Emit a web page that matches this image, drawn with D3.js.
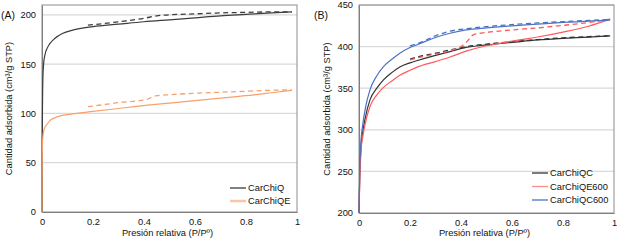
<!DOCTYPE html>
<html><head><meta charset="utf-8">
<script src="https://cdn.jsdelivr.net/npm/d3@7"></script>
<style>
body{margin:0;background:#fff;}
svg{display:block;font-family:"Liberation Sans",Arial,sans-serif;}
</style></head>
<body><svg id="c" width="617" height="240"></svg>
<script>
// ---------- DATA ----------
const xTicks = [0, 0.2, 0.4, 0.6, 0.8, 1];
const xTickLabels = ["0", "0.2", "0.4", "0.6", "0.8", "1"];
const yTicksA = [0, 50, 100, 150, 200];
const yTicksB = [200, 250, 300, 350, 400, 450];

// Panel A: [P/P0, volume]
const carChiQ_ads = [[0,0],[0.0005,50],[0.002,110],[0.004,140],[0.007,152],[0.012,160],[0.02,166],[0.03,170.5],[0.05,176],[0.08,181],[0.12,184.5],[0.2,188],[0.3,190.5],[0.4,193],[0.5,195],[0.6,197],[0.7,199],[0.8,200.5],[0.9,202],[0.98,203]];
const carChiQ_des = [[0.98,203],[0.9,203],[0.8,202.5],[0.7,202],[0.6,201],[0.5,200],[0.45,199],[0.4,196.5],[0.3,193],[0.2,190],[0.18,189.5]];
const carChiQE_ads = [[0,0],[0.0005,40],[0.002,70],[0.005,80],[0.01,85],[0.02,89],[0.03,92.5],[0.05,95.5],[0.08,98],[0.12,99.5],[0.2,102],[0.3,105],[0.4,108],[0.5,110.5],[0.6,113],[0.7,115.5],[0.8,118],[0.9,121],[0.98,123.5]];
const carChiQE_des = [[0.98,124],[0.9,123.5],[0.8,122.5],[0.7,121.5],[0.6,120.5],[0.5,119],[0.45,118],[0.43,116.5],[0.41,114],[0.3,111],[0.2,107.5],[0.18,107]];

// Panel B
const carChiQC_ads = [[0,200],[0.003,245],[0.008,280],[0.015,298],[0.025,315],[0.043,336],[0.07,350],[0.096,360],[0.13,369],[0.16,375.5],[0.2,380.5],[0.226,383],[0.3,389.5],[0.357,394],[0.42,399],[0.5,402],[0.6,405],[0.7,408],[0.8,410],[0.9,411.5],[0.985,413]];
const carChiQC_des = [[0.985,413],[0.9,412],[0.8,410.5],[0.7,408.5],[0.6,406],[0.5,403],[0.42,400],[0.357,396],[0.3,392],[0.25,389],[0.2,385]];
const carChiQE600_ads = [[0,200],[0.003,240],[0.008,275],[0.015,292],[0.025,308],[0.043,328],[0.07,342],[0.096,351],[0.13,359],[0.16,365.5],[0.2,371.5],[0.226,375],[0.3,382],[0.357,387.5],[0.42,394.5],[0.5,401],[0.6,406.5],[0.7,411.5],[0.8,417.5],[0.9,424.5],[0.985,433]];
const carChiQE600_des = [[0.985,433],[0.9,429],[0.8,425.5],[0.7,422.5],[0.6,420],[0.5,417],[0.45,414.5],[0.42,405],[0.4,400],[0.357,395],[0.3,391],[0.25,388],[0.2,384]];
const carChiQC600_ads = [[0,200],[0.003,255],[0.008,288],[0.015,307],[0.025,326],[0.043,348],[0.07,365],[0.096,376],[0.13,385],[0.16,392],[0.2,399],[0.226,402],[0.3,411],[0.357,416],[0.42,420],[0.5,422.5],[0.6,425],[0.7,427],[0.8,429],[0.9,430.5],[0.985,432]];
const carChiQC600_des = [[0.985,432.5],[0.9,431.5],[0.8,430],[0.7,428.5],[0.6,426.5],[0.5,424],[0.42,421.5],[0.357,418.5],[0.3,413],[0.25,406],[0.2,401]];

// ---------- DRAW ----------
const svg = d3.select("#c");
const FS = 9.3;

function panel(cfg) {
  const x = d3.scaleLinear().domain([0, 1]).range([cfg.x0, cfg.x1]);
  const y = d3.scaleLinear().domain(cfg.yDomain).range([cfg.yb, cfg.yt]);
  const g = svg.append("g");
  // gridlines
  g.selectAll(".grid").data(cfg.yTicks.filter(t => t !== cfg.yDomain[0])).enter()
    .append("line").attr("x1", cfg.x0).attr("x2", cfg.x1)
    .attr("y1", d => y(d)).attr("y2", d => y(d))
    .attr("stroke", "#d9d9d9").attr("stroke-width", 1.3);
  // frame
  g.append("rect").attr("x", cfg.x0).attr("y", cfg.yt)
    .attr("width", cfg.x1 - cfg.x0).attr("height", cfg.yb - cfg.yt)
    .attr("fill", "none").attr("stroke", "#8c8c8c").attr("stroke-width", 1);
  // axes
  const yAxis = d3.axisLeft(y).tickValues(cfg.yTicks).tickSize(0).tickPadding(6);
  const ya = g.append("g").attr("transform", `translate(${cfg.x0},0)`).call(yAxis);
  ya.select(".domain").attr("stroke", "#7f7f7f");
  ya.selectAll("text").attr("font-size", FS).attr("fill", "#111").attr("font-family", "Liberation Sans, Arial, sans-serif");
  const xAxis = d3.axisBottom(x).tickValues(xTicks).tickFormat((d, i) => xTickLabels[i]).tickSize(0).tickPadding(6);
  const xa = g.append("g").attr("transform", `translate(0,${cfg.yb})`).call(xAxis);
  xa.select(".domain").attr("stroke", "#7f7f7f");
  xa.selectAll("text").attr("font-size", FS).attr("fill", "#111").attr("font-family", "Liberation Sans, Arial, sans-serif");

  const line = d3.line().x(d => x(d[0])).y(d => y(d[1])).curve(d3.curveMonotoneX);
  cfg.series.forEach(s => {
    g.append("path").datum(s.ads).attr("d", line).attr("fill", "none")
      .attr("stroke", s.color).attr("stroke-width", 1.2);
    g.append("path").datum(s.des.slice().sort((a, b) => a[0] - b[0])).attr("d", line).attr("fill", "none")
      .attr("stroke", s.color).attr("stroke-width", 1.3).attr("stroke-dasharray", "5,3.5");
  });
  // legend
  cfg.series.forEach((s, i) => {
    const ly = cfg.legY + i * cfg.legDy;
    g.append("line").attr("x1", cfg.legX).attr("x2", cfg.legX + 16).attr("y1", ly).attr("y2", ly)
      .attr("stroke", s.legColor || s.color).attr("stroke-width", s.legW || 1.3);
    g.append("text").attr("x", cfg.legX + 18).attr("y", ly).attr("dy", "0.35em")
      .attr("font-size", FS).attr("fill", "#111").text(s.name);
  });
  // titles
  g.append("text").attr("x", (cfg.x0 + cfg.x1) / 2 - 2).attr("y", 236)
    .attr("text-anchor", "middle").attr("font-size", FS).attr("fill", "#111")
    .text("Presión relativa (P/Pº)");
  g.append("text").attr("transform", `translate(${cfg.ytx},${(cfg.yt + cfg.yb) / 2}) rotate(-90)`)
    .attr("text-anchor", "middle").attr("font-size", FS).attr("fill", "#111")
    .text("Cantidad adsorbida (cm³/g STP)");
  g.append("text").attr("x", cfg.labX).attr("y", 19).attr("font-size", 10.5).attr("fill", "#111").text(cfg.label);
}

panel({
  x0: 42, x1: 297, yt: 5, yb: 212, yDomain: [0, 210], yTicks: yTicksA,
  ytx: 12, labX: 1, label: "(A)",
  legX: 230, legY: 188, legDy: 13,
  series: [
    {name: "CarChiQ", color: "#3c3c3c", ads: carChiQ_ads, des: carChiQ_des},
    {name: "CarChiQE", color: "#f7a06c", legColor: "#fbc6a4", legW: 2.5, ads: carChiQE_ads, des: carChiQE_des}
  ]
});
panel({
  x0: 359, x1: 614, yt: 5, yb: 213, yDomain: [200, 450], yTicks: yTicksB,
  ytx: 330, labX: 314, label: "(B)",
  legX: 532, legY: 173, legDy: 13.5,
  series: [
    {name: "CarChiQC", color: "#333333", ads: carChiQC_ads, des: carChiQC_des},
    {name: "CarChiQE600", color: "#ff5a5a", legColor: "#ff8c8c", ads: carChiQE600_ads, des: carChiQE600_des},
    {name: "CarChiQC600", color: "#4a72c4", legColor: "#7b9ad4", legW: 1.8, ads: carChiQC600_ads, des: carChiQC600_des}
  ]
});
</script></body></html>
